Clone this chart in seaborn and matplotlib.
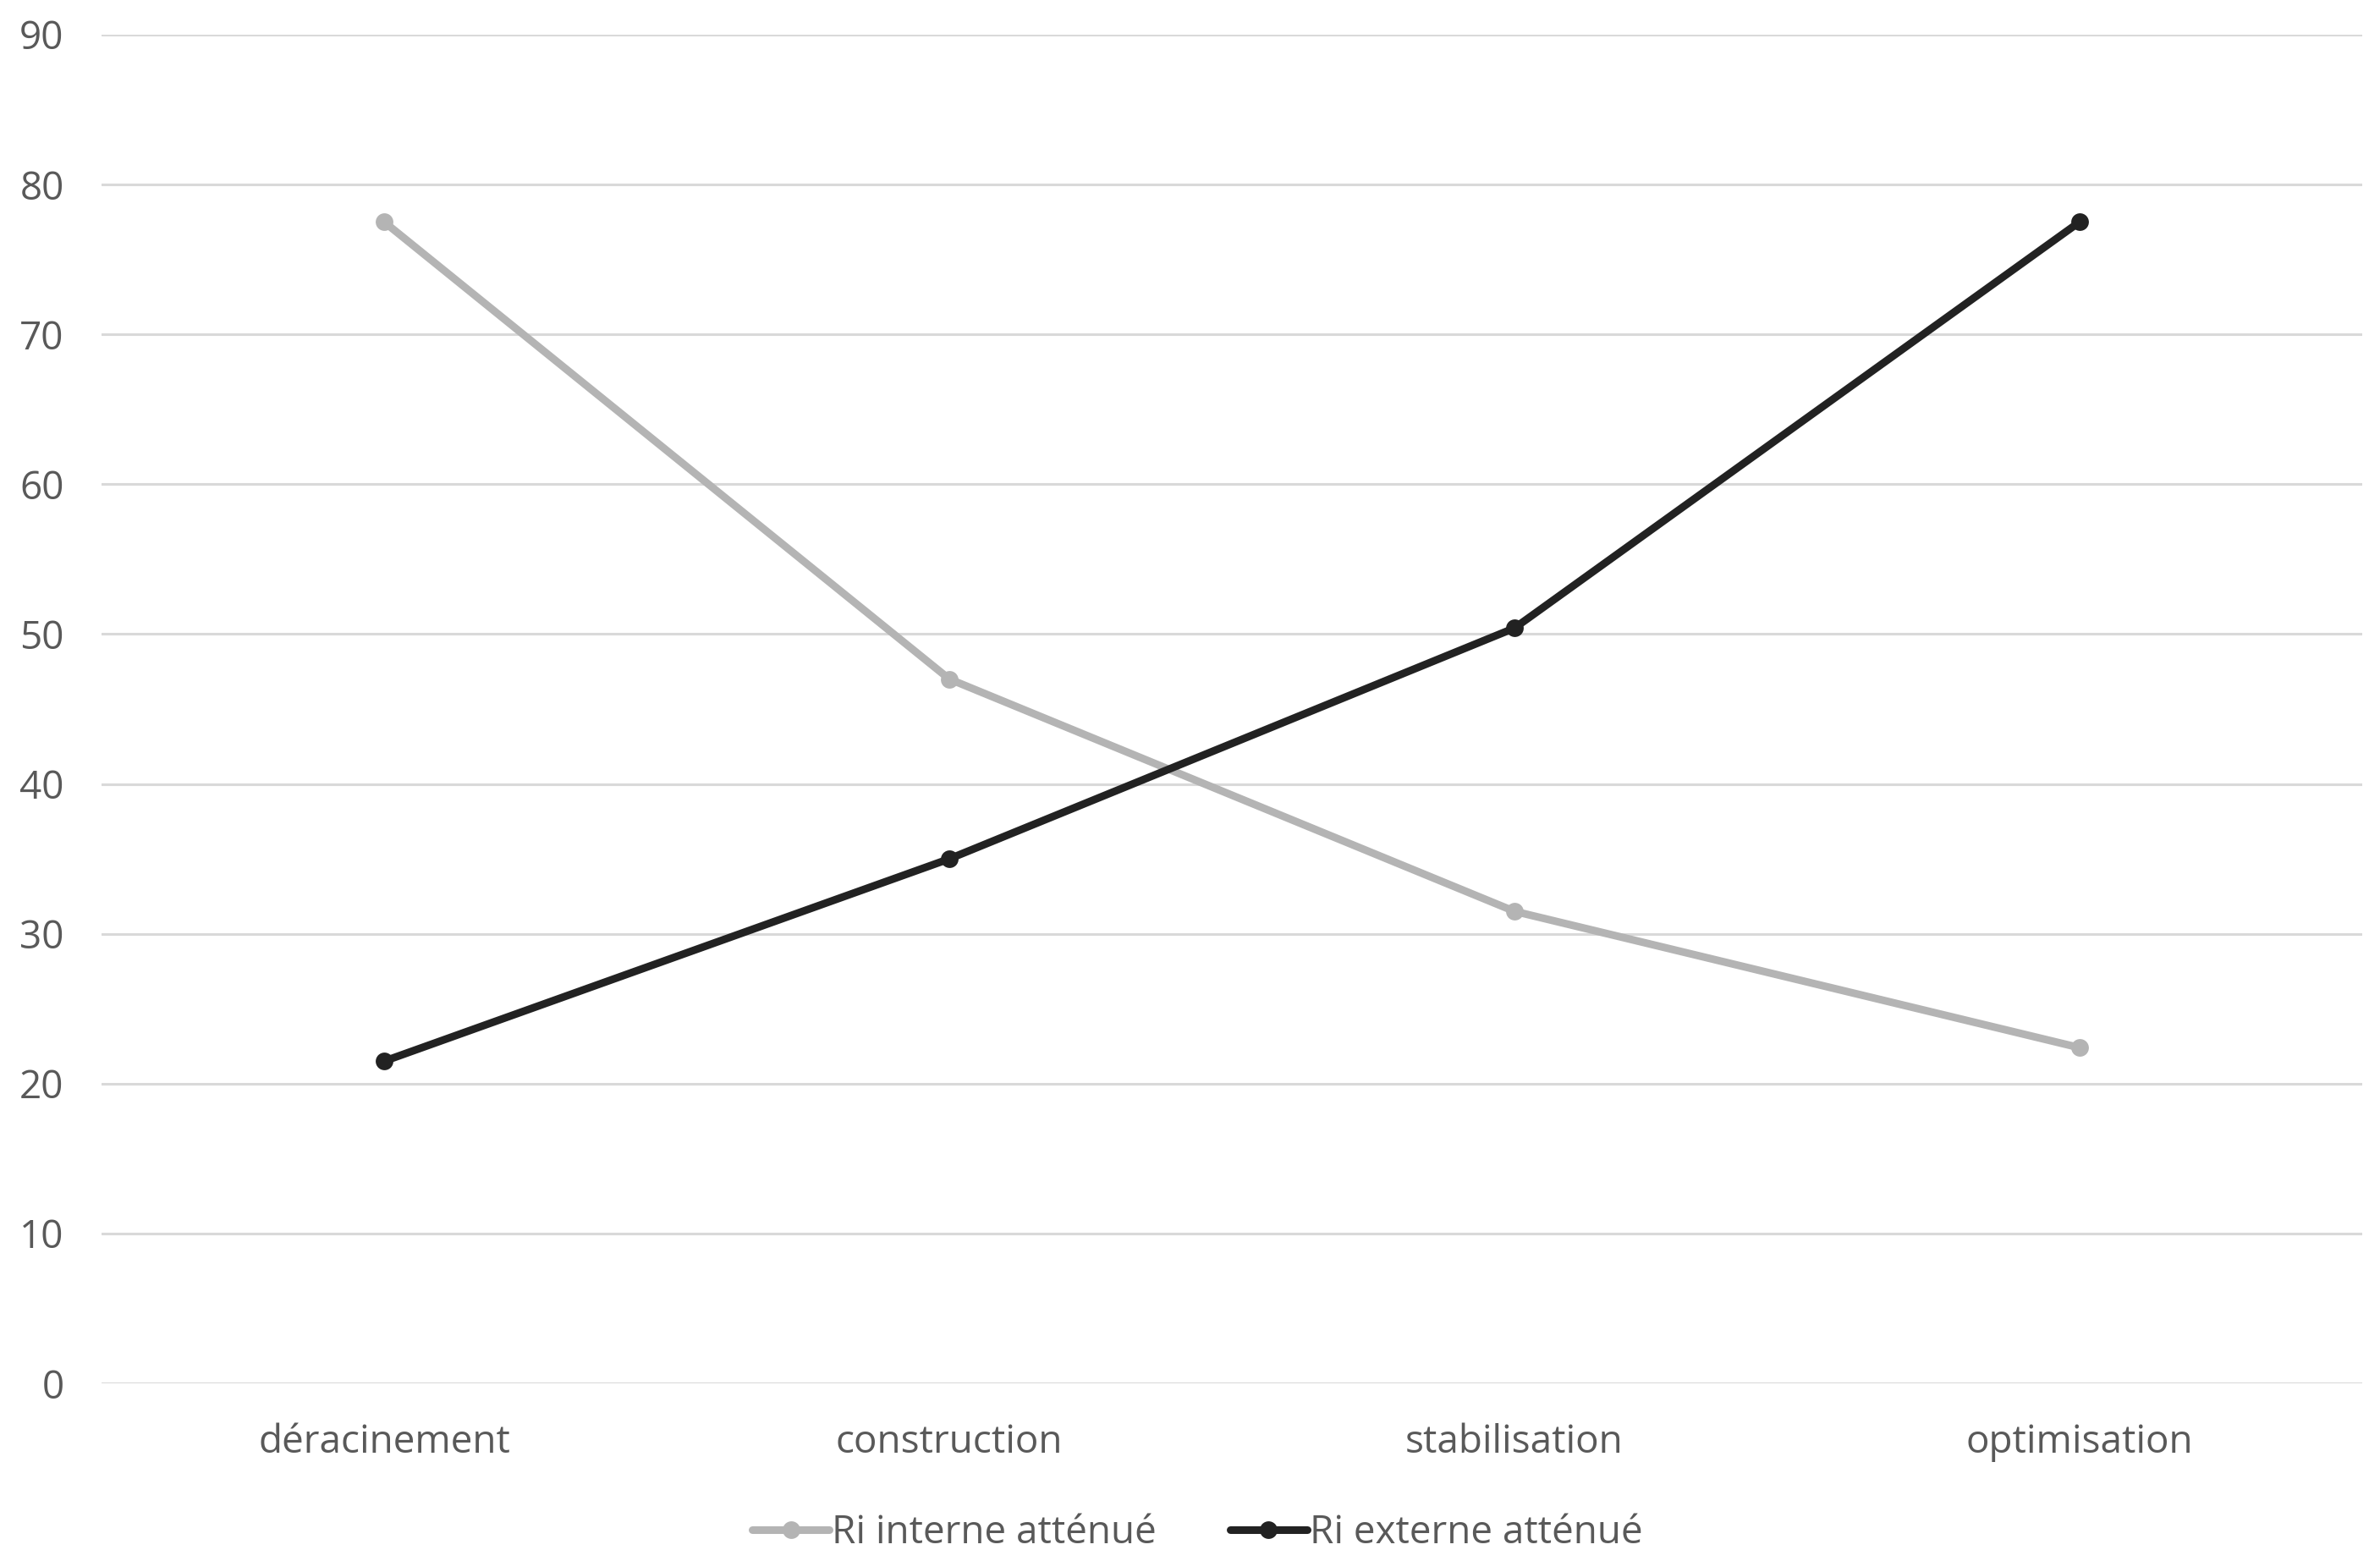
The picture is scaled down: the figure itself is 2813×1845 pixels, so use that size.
import matplotlib
matplotlib.use("Agg")
import matplotlib.pyplot as plt
import pandas as pd
import seaborn as sns

# données
phases = ["déracinement", "construction", "stabilisation", "optimisation"]
ri_interne = [77.5, 47.0, 31.5, 22.4]
ri_externe = [21.5, 35.0, 50.4, 77.5]
series_names = ["Ri interne atténué", "Ri externe atténué"]
y_ticks = [0, 10, 20, 30, 40, 50, 60, 70, 80, 90]

df = pd.DataFrame({
    "phase": phases * 2,
    "valeur": ri_interne + ri_externe,
    "serie": [series_names[0]] * len(phases) + [series_names[1]] * len(phases),
})

sns.set_theme(style="white")
plt.rcParams["font.family"] = ["Open Sans", "DejaVu Sans"]
text_color = "#595959"

fig = plt.figure(figsize=(28.13, 18.45), dpi=100)
ax = fig.add_axes([0.0427, 0.1138, 0.9498, 0.864])

sns.lineplot(
    data=df, x="phase", y="valeur", hue="serie", ax=ax,
    palette={series_names[0]: "#B4B4B4", series_names[1]: "#222222"},
    marker="o", markersize=15, markeredgewidth=0, linewidth=6.5,
    sort=False, legend=True,
)

ax.set_xlim(-0.5, 3.5)
ax.set_ylim(0, 90)
ax.set_yticks(y_ticks)
ax.set_xlabel("")
ax.set_ylabel("")
for s in ax.spines.values():
    s.set_visible(False)
ax.yaxis.grid(True, color="#D9D9D9", linewidth=2.2)
ax.set_axisbelow(True)
ax.tick_params(axis="both", length=0, labelsize=33, labelcolor=text_color)
ax.tick_params(axis="y", pad=32)
ax.tick_params(axis="x", pad=34)

handles, labels = ax.get_legend_handles_labels()
ax.get_legend().remove()
leg = fig.legend(
    handles, labels, loc="center", bbox_to_anchor=(0.503, 0.018), ncol=2,
    frameon=False, fontsize=33, handlelength=2.0, handletextpad=0.05,
    columnspacing=1.9,
)
for t in leg.get_texts():
    t.set_color(text_color)

fig.savefig("out.png", dpi=100)
